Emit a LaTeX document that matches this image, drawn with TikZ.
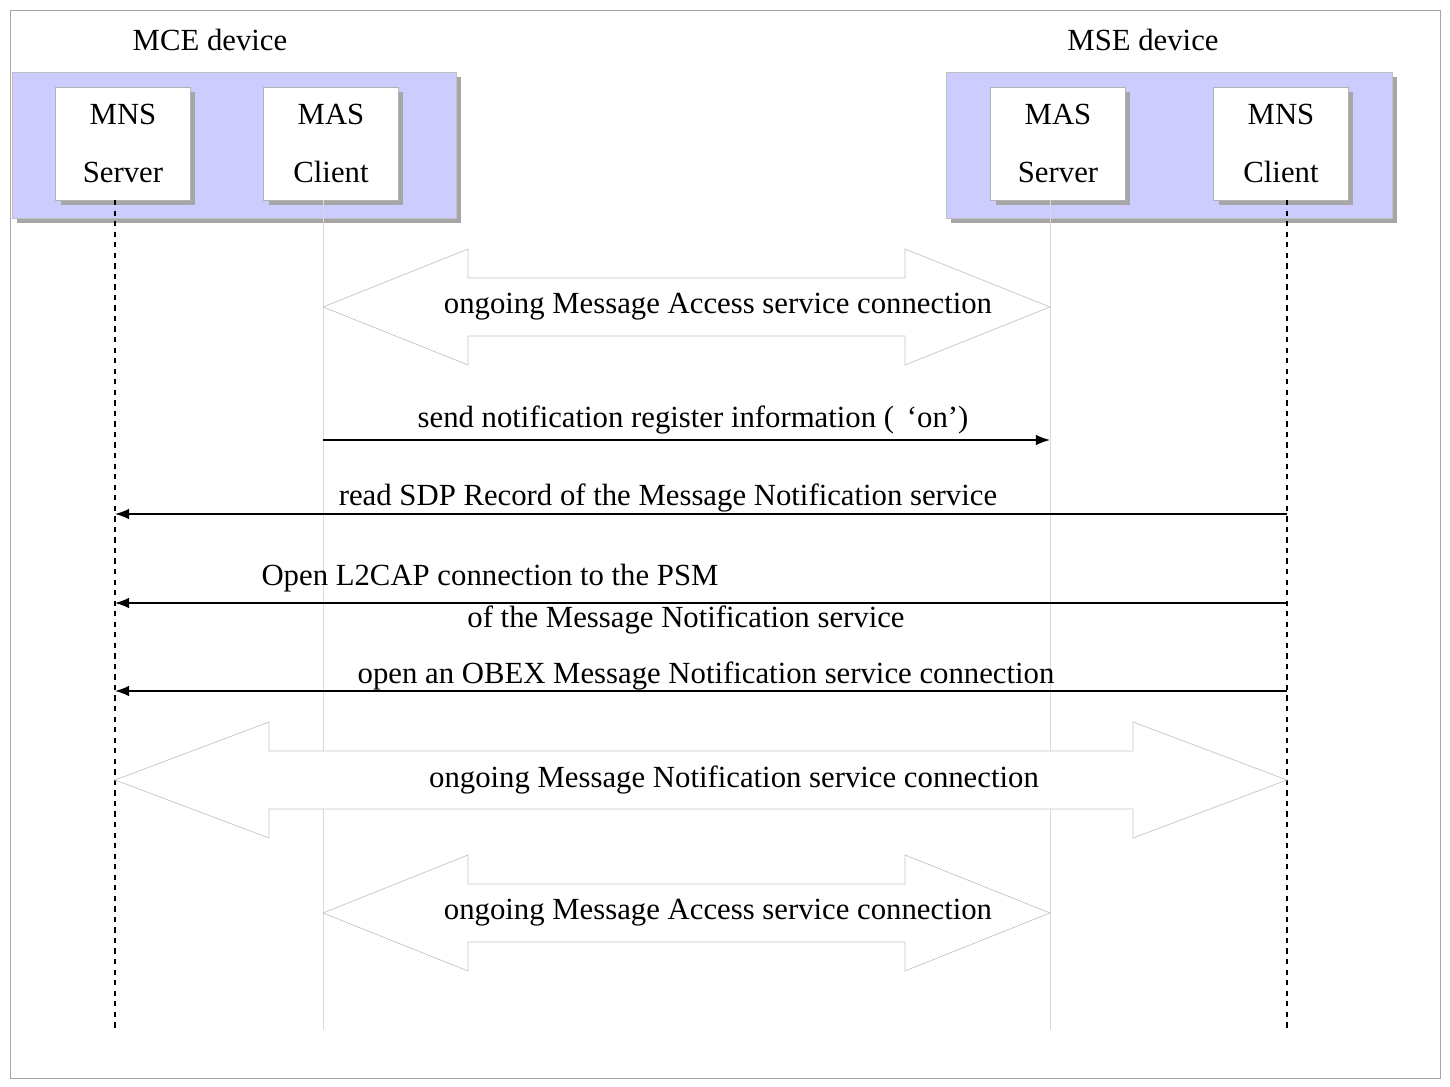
\documentclass[tikz,border=0pt]{standalone}
\usepackage{fontspec}
\setmainfont{Liberation Serif}
\usetikzlibrary{positioning,arrows.meta}
\tikzset{
  unit/.style={draw=gray!60, fill=white, minimum width=2.7cm, minimum height=2.26cm, align=center, font=\fontsize{17.5}{33}\selectfont},
  shade/.style={fill=gray!70},
  life/.style={dashed, thick},
  lifegray/.style={draw=gray!30, thin},
  msg/.style={thick, -{Latex[length=8pt,width=6pt]}},
  lbl/.style={font=\fontsize{17.5}{20}\selectfont, inner sep=1pt},
  bigarrow/.style={draw=gray!45, fill=white}
}
% px-like units: x right, y down
\newcommand{\dblarrow}[6]{% x1, x2, ycentre, shaft half, head half, head length
  \draw[bigarrow] (#1,#3) -- (#1+#6,#3-#5) -- (#1+#6,#3-#4) -- (#2-#6,#3-#4) -- (#2-#6,#3-#5)
    -- (#2,#3) -- (#2-#6,#3+#5) -- (#2-#6,#3+#4) -- (#1+#6,#3+#4) -- (#1+#6,#3+#5) -- cycle;}
\begin{document}
\begin{tikzpicture}[x=0.02cm, y=-0.02cm]
   \useasboundingbox (0,0) rectangle (1450,1087);
   \draw[gray!70] (10,10) rectangle (1440,1078);

   % devices
   \node[lbl] (mce) at (210,40) {MCE device};
   \node[lbl] (mse) at (1143,40) {MSE device};
   \fill[shade] (17,77) rectangle (461,223);
   \fill[blue!20, draw=gray!50] (12,72) rectangle (456,218);
   \fill[shade] (951,77) rectangle (1397,223);
   \fill[blue!20, draw=gray!50] (946,72) rectangle (1392,218);

   \foreach \x in {123,331,1058,1281} \fill[shade] (\x-67+5,87+5) rectangle (\x+67+5,200+5);
   \node[unit] (mnsS) at (123,143.5) {MNS\\Server};
   \node[unit] (masC) at (331,143.5) {MAS\\Client};
   \node[unit] (masS) at (1058,143.5) {MAS\\Server};
   \node[unit] (mnsC) at (1281,143.5) {MNS\\Client};

   % lifelines
   \coordinate (mnsSend) at (115,1030);
   \coordinate (masCend) at (323,1030);
   \coordinate (masSend) at (1050,1030);
   \coordinate (mnsCend) at (1287,1030);
   \draw[life] (115,200) -- (mnsSend);
   \draw[lifegray] (323,200) -- (masCend);
   \draw[lifegray] (1050,200) -- (masSend);
   \draw[life] (1287,200) -- (mnsCend);

   % ongoing connections
   \dblarrow{323}{1050}{307}{29}{58}{145}
   \node[lbl] (mas1) at (718,307) {ongoing Message Access service connection};
   \dblarrow{115}{1287}{780}{29}{58}{154}
   \node[lbl] (mns1) at (734,780) {ongoing Message Notification service connection};
   \dblarrow{323}{1050}{913}{29}{58}{145}
   \node[lbl] (mas2) at (718,913) {ongoing Message Access service connection};

   % messages
   \coordinate (a1) at (323,440); \coordinate (b1) at (1050,440);
   \draw[msg] (a1) -- (b1);
   \node[lbl] (t1) at (693,420) {send notification register information (\,\ ‘on’)};
   \coordinate (a2) at (1287,514); \coordinate (b2) at (115,514);
   \draw[msg] (a2) -- (b2);
   \node[lbl] (t2) at (668,498) {read SDP Record of the Message Notification service};
   \coordinate (a3) at (1287,603); \coordinate (b3) at (115,603);
   \draw[msg] (a3) -- (b3);
   \node[lbl] (t3) at (490,578) {Open L2CAP connection to the PSM};
   \node[lbl] (t3b) at (686,620) {of the Message Notification service};
   \coordinate (a4) at (1287,691); \coordinate (b4) at (115,691);
   \draw[msg] (a4) -- (b4);
   \node[lbl] (t4) at (706,676) {open an OBEX Message Notification service connection};
\end{tikzpicture}
\end{document}
